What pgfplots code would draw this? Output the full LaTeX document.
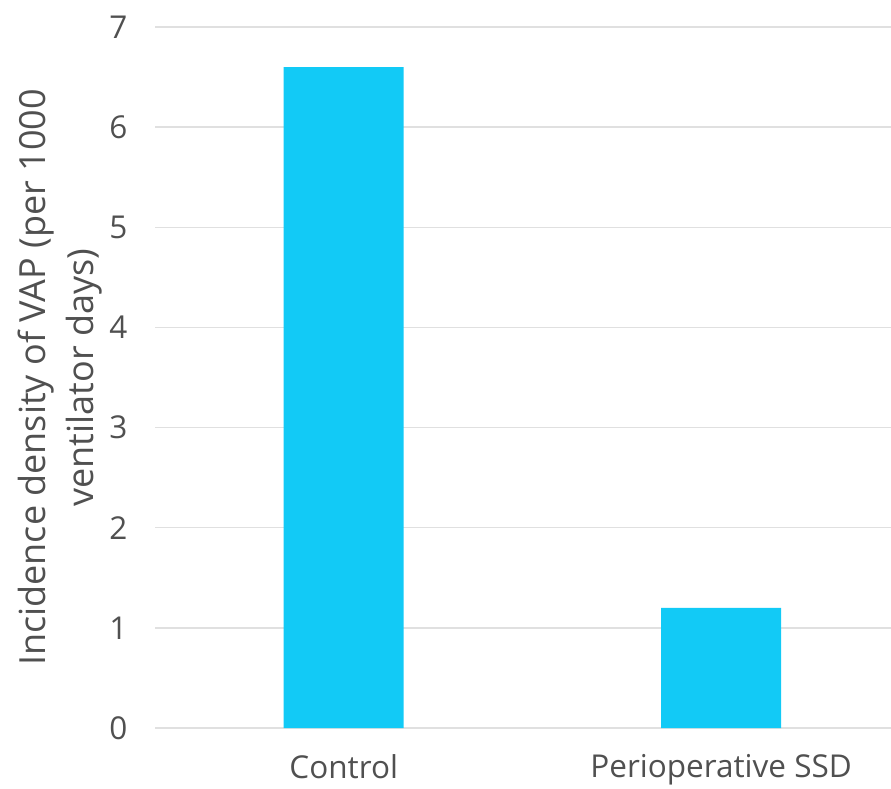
\documentclass[border=0pt]{standalone}
\usepackage{pgfplots}
\pgfplotsset{compat=1.18}
\usepackage{fontspec}
\setmainfont{Open Sans}
\definecolor{barblue}{HTML}{12CAF6}
\definecolor{gridgray}{HTML}{E0E0E0}
\definecolor{txtgray}{HTML}{505050}
\begin{document}
\begin{tikzpicture}
\useasboundingbox (0,0) rectangle (891pt,788pt);
\begin{axis}[
  at={(155pt,60pt)}, anchor=south west,
  scale only axis, width=736pt, height=701pt,
  xmin=-0.5, xmax=1.45, ymin=0, ymax=7,
  ytick={0,1,...,7},
  xtick=data, xticklabels={Control, Perioperative SSD},
  axis line style={draw=none},
  major tick length=0pt,
  ymajorgrids, grid style={gridgray, line width=1.5pt},
  /pgf/number format/assume math mode=true,
  tick label style={font=\fontsize{31.5}{36}\selectfont, text=txtgray},
  y tick label style={xshift=-24pt},
  x tick label style={yshift=-23pt},
  every axis y label/.style={at={(axis description cs:0,0.5)}, rotate=90, anchor=center, yshift=95pt, align=center, font=\fontsize{36}{48}\selectfont, text=txtgray},
  ylabel={Incidence density of VAP (per 1000\\ventilator days)},
  clip=false,
]
\addplot[ybar, bar width=120pt, fill=barblue, draw=none] coordinates {(0,6.6) (1,1.2)};
\end{axis}
\end{tikzpicture}
\end{document}
